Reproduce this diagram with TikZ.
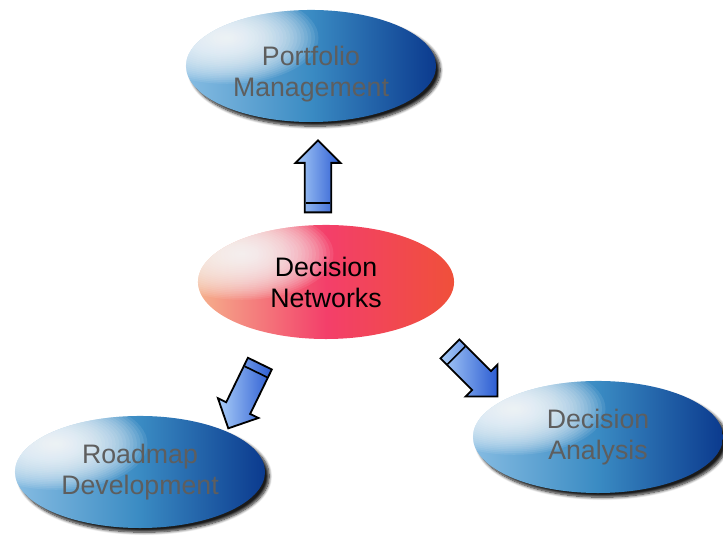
\documentclass[tikz,border=0pt]{standalone}
\usepackage{fontspec}
\setmainfont{Liberation Sans}
\usetikzlibrary{shapes.geometric,shapes.arrows,shadows.blur,calc,positioning}
\definecolor{BlueLight}{HTML}{86BCE2}
\definecolor{BlueMid}{HTML}{3A8BC3}
\definecolor{BlueDark}{HTML}{0B3A8E}
\definecolor{Peach}{HTML}{F5B08C}
\definecolor{HotPink}{HTML}{F33F6A}
\definecolor{RedOrange}{HTML}{F0503A}
\definecolor{ArrowLight}{HTML}{A9CDF8}
\definecolor{ArrowDark}{HTML}{2C5CD2}
\definecolor{LabelGray}{HTML}{5E5E5E}

\tikzset{
  % soft white glow at the upper left of every ellipse
  highlight/.style={path picture={
     \coordinate (g) at ([shift={(-2.1cm,0.7cm)}]path picture bounding box.center);
     \foreach \k in {1,...,26}
       \fill[white, opacity=0.085] (g) ellipse ({\k*0.088cm} and {\k*0.044cm});}},
  topic/.style={ellipse, minimum width=6.25cm, minimum height=2.8cm, inner sep=0pt,
     left color=BlueLight, right color=BlueDark, middle color=BlueMid, highlight,
     blur shadow={shadow xshift=3pt, shadow yshift=-3pt, shadow blur steps=8, shadow opacity=90},
     text=LabelGray, align=center, font=\fontsize{19}{22}\selectfont},
  hub/.style={ellipse, minimum width=6.4cm, minimum height=2.85cm, inner sep=0pt,
     left color=Peach, right color=RedOrange, middle color=HotPink, highlight,
     text=black, align=center, font=\fontsize{19}{22}\selectfont},
  flow/.style={single arrow, draw=black, line width=1.3pt, inner xsep=0pt, inner ysep=0.31cm,
     minimum height=1.8cm, single arrow head extend=0.23cm,
     left color=ArrowLight, right color=ArrowDark}
}

\begin{document}
\begin{tikzpicture}[x=0.025cm, y=0.025cm]
\useasboundingbox (0,0) rectangle (723,536);

% centre ellipse
\node[hub] (net) at (326,254) {Decision\\Networks};

% the three topics
\node[topic] (port) at (311,470) {\rule{0pt}{0.9cm}Portfolio\\Management};
\node[topic] (road) at (140,64) {Roadmap\\Development};
\node[topic] (ana) at (598,99) {Decision\\Analysis};

% block arrows
\node[flow, rotate=90] (toPort) at (318,353) {};
\node[flow, rotate=244] (toRoad) at (247,146) {};
\node[flow, rotate=-45, minimum height=1.68cm] (toAna) at (469,168) {};

% stripes at the tails
\foreach \a in {toPort,toRoad,toAna}{
  \coordinate (s) at ($(\a.tail)!0.25cm!(\a.tip)$);
  \draw[line width=1.2pt] ($(s)!0.31cm!90:(\a.tip)$) -- ($(s)!0.31cm!-90:(\a.tip)$);
}

\end{tikzpicture}
\end{document}
